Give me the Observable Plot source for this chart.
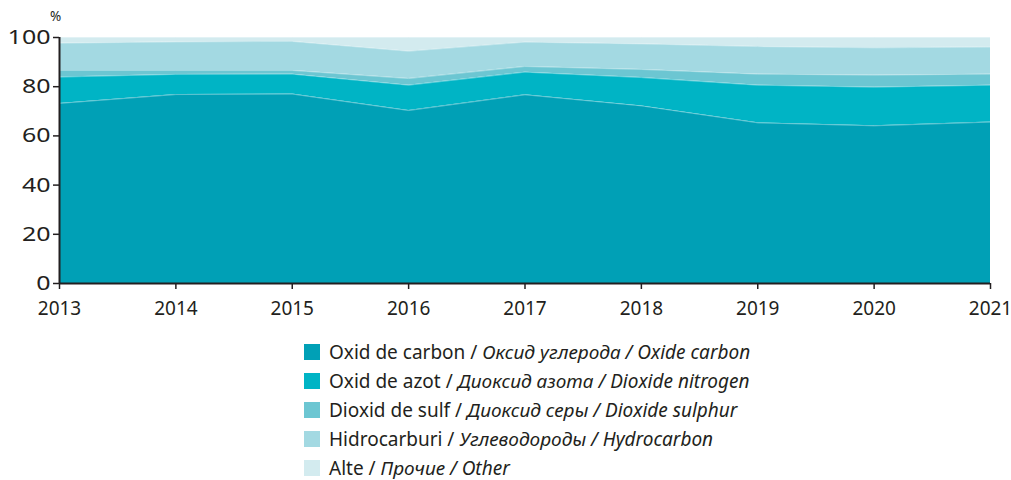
<!DOCTYPE html>
<html>
<head>
<meta charset="utf-8">
<script src="https://cdn.jsdelivr.net/npm/d3@7"></script>
<script src="https://cdn.jsdelivr.net/npm/@observablehq/plot@0.6"></script>
<style>
  html, body { margin: 0; padding: 0; background: #fff; }
  body { width: 1011px; height: 480px; overflow: hidden; font-family: "Noto Sans", "Open Sans", sans-serif; color: #231f20; }
  #chart { position: relative; }
  #pct { position: absolute; left: 50px; top: 7px; font-size: 13.5px; }
  #legend { position: absolute; left: 304px; top: 337.5px; }
  .item { display: flex; align-items: center; height: 29px; font-size: 19px; white-space: nowrap; }
  .sw { width: 16px; height: 16px; margin-right: 9px; flex: none; }
  .it { font-style: italic; }
</style>
</head>
<body>
<div id="chart"><div id="pct">%</div></div>
<div id="legend"></div>
<script>
const years  = [2013, 2014, 2015, 2016, 2017, 2018, 2019, 2020, 2021];
const carbon = [73.2, 76.8, 77.0, 70.3, 76.7, 72.2, 65.3, 64.1, 65.6];
const azot   = [10.7, 8.2, 8.1, 10.3, 9.2, 11.5, 15.3, 15.7, 15.0];
const sulf   = [2.7, 1.6, 1.5, 2.7, 2.3, 3.3, 4.5, 4.9, 4.5];
const hydro  = [11.1, 11.6, 11.8, 11.1, 9.9, 10.4, 11.2, 11.1, 11.0];
const other  = [2.3, 1.8, 1.6, 5.6, 1.9, 2.6, 3.7, 4.2, 3.9];
const seriesKeys = ["carbon", "azot", "sulf", "hydro", "other"];
const seriesRo = ["Oxid de carbon", "Oxid de azot", "Dioxid de sulf", "Hidrocarburi", "Alte"];
const seriesRu = ["Оксид углерода", "Диоксид азота", "Диоксид серы", "Углеводороды", "Прочие"];
const seriesEn = ["Oxide carbon", "Dioxide nitrogen", "Dioxide sulphur", "Hydrocarbon", "Other"];
const colors = ["#00a0b6", "#00b4c5", "#6cc6d2", "#a3d9e2", "#d3ebef"];
const yTicks = [0, 20, 40, 60, 80, 100];

const valuesBy = {carbon, azot, sulf, hydro, other};
const data = [];
seriesKeys.forEach((k) => {
  years.forEach((yr, i) => data.push({year: yr, series: k, value: valuesBy[k][i]}));
});

const ink = "#231f20";
const chart = Plot.plot({
  width: 1011,
  height: 330,
  marginLeft: 59,
  marginRight: 21,
  marginTop: 37,
  marginBottom: 47,
  style: {fontFamily: "'Noto Sans', 'Open Sans', sans-serif", fontSize: "19px", color: ink, background: "#fff"},
  x: {domain: [2013, 2021], label: null},
  y: {domain: [0, 100], label: null},
  color: {domain: seriesKeys, range: colors},
  marks: [
    Plot.areaY(data, Plot.stackY({x: "year", y: "value", z: "series", fill: "series", order: seriesKeys})),
    Plot.lineY(data, Plot.stackY2({x: "year", y: "value", z: "series", order: seriesKeys, stroke: "#ffffff", strokeOpacity: 0.45, strokeWidth: 0.8})),
    Plot.axisX({ticks: years, tickFormat: d => String(d), tickSize: 6, tickPadding: 12, stroke: ink, strokeWidth: 1.5, fontSize: 19}),
    Plot.axisY({ticks: yTicks, tickSize: 6, tickPadding: 3, stroke: ink, strokeWidth: 1.5, fontSize: 20}),
    Plot.ruleY([0], {stroke: ink, strokeWidth: 2}),
    Plot.ruleX([2013], {stroke: ink, strokeWidth: 2})
  ]
});
document.getElementById("chart").appendChild(chart);

// widen the y tick labels horizontally, as in the reference typeface
d3.select(chart).selectAll('g[aria-label="y-axis tick label"] text').each(function () {
  const t = this.getAttribute("transform") || "";
  this.setAttribute("transform", t + " scale(1.25,1)");
});

const legend = document.getElementById("legend");
seriesKeys.forEach((k, i) => {
  const row = document.createElement("div");
  row.className = "item";
  row.innerHTML = `<span class="sw" style="background:${colors[i]}"></span><span>${seriesRo[i]} / <span class="it">${seriesRu[i]} / ${seriesEn[i]}</span></span>`;
  legend.appendChild(row);
});
</script>
</body>
</html>
